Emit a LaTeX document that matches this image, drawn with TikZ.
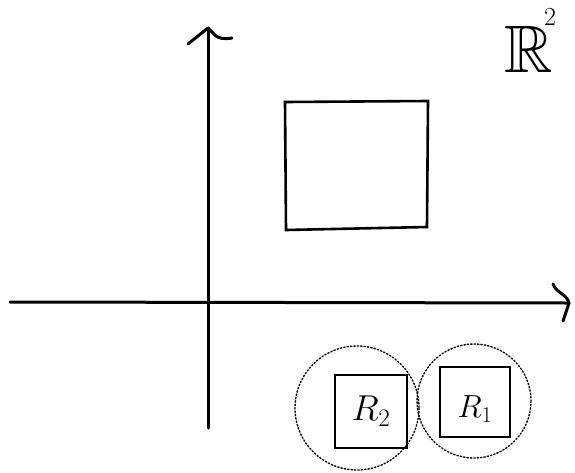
\RequirePackage{fix-cm}
\documentclass[tikz,border=0pt]{standalone}
\usepackage{amssymb}
\begin{document}
\begin{tikzpicture}[x=1pt,y=-1pt,
  axis/.style={line width=3pt,line cap=round,line join=round},
  box/.style={line width=2.6pt,line join=miter},
  smallbox/.style={draw,line width=2pt,inner sep=0pt},
  ball/.style={line width=1.4pt,dotted,line cap=round},
  lab/.style={inner sep=0pt}]
\useasboundingbox[fill=white] (0,0) rectangle (575,472);

% coordinate axes
\coordinate (ytop) at (208,28);
\coordinate (ybot) at (208,428);
\coordinate (xl) at (10,302);
\coordinate (xr) at (569,303);
\draw[axis] (ybot) -- (ytop);
\draw[axis] (xl) -- (xr);
% hand-drawn arrow tips
\draw[axis] (188,44) -- (ytop) .. controls (214,32) and (214,41) .. (232,38);
\draw[axis] (553,284) .. controls (556,293) and (567,294) .. (xr) -- (563,321);

% the plane label R^2
\node[lab,anchor=base,scale=2.7,font=\fontsize{24.88}{25}\selectfont]
  (plane) at (529,72) {$\mathbb{R}$};
\node[lab,anchor=base,font=\fontsize{26}{26}\selectfont]
  (two) at (550,25) {$2$};

% big rectangle
\coordinate (a) at (285,102);
\coordinate (b) at (428,101);
\coordinate (c) at (427,227);
\coordinate (d) at (286,230);
\draw[box] (a) -- (b) -- (c) -- (d) -- cycle;

% two small rectangles with their covering balls
\node[smallbox,minimum width=72pt,minimum height=73pt] (r2) at (371,411) {};
\node[smallbox,minimum width=70pt,minimum height=70pt] (r1) at (475,402) {};
\draw[ball] (357,408) circle[radius=62];
\draw[ball] (474,401) circle[radius=57];
\node[lab,font=\fontsize{36}{36}\selectfont] (l2) at (r2) {$R_2$};
\node[lab,font=\fontsize{32}{32}\selectfont] (l1) at ([yshift=-7pt]r1.center) {$R_1$};
\end{tikzpicture}
\end{document}
